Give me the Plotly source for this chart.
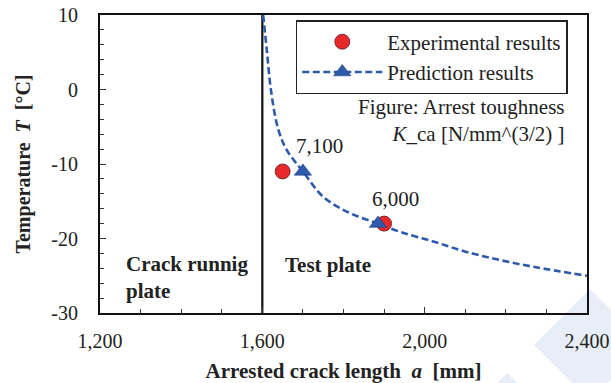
import plotly.graph_objects as go

# ---- data ----
exp_a = [1650, 1900]
exp_T = [-11, -18]
pred_a = [1700, 1885]
pred_T = [-11, -18]
kca_labels = ["7,100", "6,000"]
curve_a = [1602, 1611, 1621, 1639, 1660, 1700, 1750, 1816, 1885, 1939, 2021, 2103, 2186, 2268, 2400]
curve_T = [10, 5.3, 0, -5.3, -8.1, -11, -14.4, -16.6, -18, -19.1, -20.4, -21.8, -22.9, -23.8, -25]
plate_boundary = 1600
x_range = [1200, 2400]
y_range = [-30, 10]
x_tickvals = [1200, 1600, 2000, 2400]
x_ticktext = ["1,200", "1,600", "2,000", "2,400"]
y_tickvals = [-30, -20, -10, 0, 10]
y_ticktext = ["-30", "-20", "-10", "0", "10"]

SERIF = "Liberation Serif"
BLUE = "#2E5AAC"
RED = "#E8282B"

fig = go.Figure()

fig.add_trace(go.Scatter(
    x=curve_a, y=curve_T, mode="lines", line=dict(color=BLUE, width=2.6, dash="7px,3.5px", shape="spline"),
    showlegend=False, hoverinfo="skip"))

fig.add_trace(go.Scatter(
    x=exp_a, y=exp_T, mode="markers", name="Experimental results",
    marker=dict(symbol="circle", size=15, color=RED, line=dict(color="#5a1a1a", width=0.8)),
    legendrank=1))

fig.add_trace(go.Scatter(
    x=pred_a, y=pred_T, mode="markers", name="Prediction results", showlegend=False,
    marker=dict(symbol="triangle-up", size=15, color=BLUE, line=dict(color="#1F3F80", width=0.6))))

# legend entry for prediction (line + triangle)
fig.add_trace(go.Scatter(
    x=[None], y=[None], mode="lines+markers", name="Prediction results",
    line=dict(color=BLUE, width=2.6, dash="7px,3.5px"),
    marker=dict(symbol="triangle-up", size=15, color=BLUE, line=dict(color="#1F3F80", width=0.6)),
    legendrank=2))

annotations = []
for a, T, lab in zip(pred_a, pred_T, kca_labels):
    annotations.append(dict(x=a, y=T, xref="x", yref="y", text=lab, showarrow=False,
                            xshift=17, yshift=25, font=dict(family=SERIF, size=21, color="#222")))

annotations += [
    dict(x=1259, y=-25.2, xref="x", yref="y", text="<b>Crack runnig<br>plate</b>", showarrow=False,
         xanchor="left", yanchor="middle", align="left", font=dict(family=SERIF, size=21, color="#222")),
    dict(x=1651, y=-23.6, xref="x", yref="y", text="<b>Test plate</b>", showarrow=False,
         xanchor="left", yanchor="middle", align="left", font=dict(family=SERIF, size=21, color="#222")),
    dict(x=0.957, y=0.646, xref="paper", yref="paper",
         text="Figure: Arrest toughness<br><i>K</i>_ca [N/mm^(3/2) ]", showarrow=False,
         xanchor="right", yanchor="middle", align="right", font=dict(family=SERIF, size=21, color="#222")),
]

shapes = [
    dict(type="line", xref="x", yref="paper", x0=plate_boundary, x1=plate_boundary, y0=0, y1=1,
         line=dict(color="#111", width=2.2), layer="below"),
    dict(type="path", xref="paper", yref="paper",
         path="M0.891,-0.107 L1.006,0.0805 L1.121,-0.107 L1.006,-0.295 Z",
         fillcolor="#E8EEF7", line=dict(width=0), layer="below"),
    dict(type="path", xref="paper", yref="paper",
         path="M0.780,-0.292 L0.836,-0.201 L0.891,-0.292 L0.836,-0.383 Z",
         fillcolor="#E8EEF7", line=dict(width=0), layer="below"),
]

fig.update_layout(
    width=611, height=383,
    margin=dict(l=100, r=24, t=15, b=70, autoexpand=False),
    paper_bgcolor="white", plot_bgcolor="white",
    font=dict(family=SERIF, size=20, color="#222"),
    annotations=annotations, shapes=shapes,
    legend=dict(x=0.402, y=0.983, xanchor="left", yanchor="top",
                bgcolor="white", bordercolor="#222", borderwidth=1.5,
                font=dict(family=SERIF, size=21, color="#222"),
                itemwidth=80, tracegroupgap=0),
)

fig.update_xaxes(
    range=x_range, tickmode="array", tickvals=x_tickvals, ticktext=x_ticktext,
    showgrid=False, zeroline=False, showline=True, linecolor="#111", linewidth=2, mirror=True,
    ticks="inside", ticklen=6, tickwidth=1, tickcolor="#333",
    minor=dict(dtick=100, tick0=1200, ticks="inside", ticklen=4, tickcolor="#333", showgrid=False),
    ticklabelstandoff=9,
    tickfont=dict(family=SERIF, size=20, color="#222"),
    title=dict(text="<b>Arrested crack length  <i>a</i>  [mm]</b>", standoff=12,
               font=dict(family=SERIF, size=21, color="#222")),
)
fig.update_yaxes(
    range=y_range, tickmode="array", tickvals=y_tickvals, ticktext=y_ticktext,
    showgrid=False, zeroline=False, showline=True, linecolor="#111", linewidth=2, mirror=True,
    ticks="inside", ticklen=6, tickwidth=1, tickcolor="#333",
    minor=dict(dtick=2, tick0=-30, ticks="inside", ticklen=4, tickcolor="#333", showgrid=False),
    ticklabelstandoff=16,
    tickfont=dict(family=SERIF, size=20, color="#222"),
    title=dict(text="<b>Temperature  <i>T</i>  [°C]</b>", standoff=15,
               font=dict(family=SERIF, size=20, color="#222")),
)

fig.write_html("out.html")
